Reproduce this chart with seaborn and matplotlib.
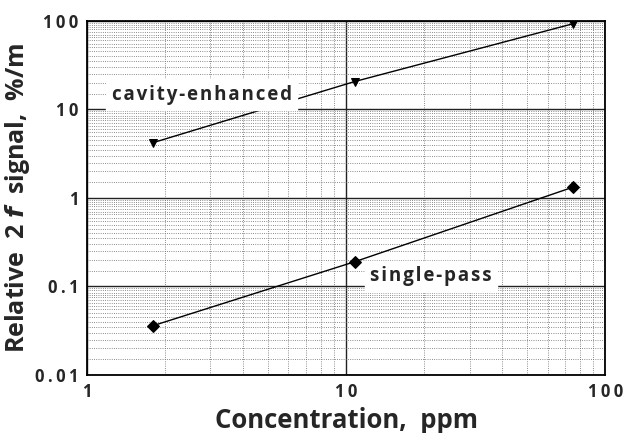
import numpy as np
import pandas as pd
import seaborn as sns
import matplotlib.pyplot as plt
from matplotlib.ticker import LogLocator, FixedLocator, FixedFormatter, NullFormatter

# Data
concentration = [1.8, 10.8, 75]
cavity_enhanced = [4.2, 20.6, 92.5]
single_pass = [0.036, 0.19, 1.32]

x_ticks = [1, 10, 100]
x_tick_labels = ["1", "10", "100"]
y_ticks = [0.01, 0.1, 1, 10, 100]
y_tick_labels = ["0.01", "0.1", "1", "10", "100"]


def spaced(s, sep="\u2009"):
    # old typewriter-like letter spacing
    return sep.join(s)


df = pd.DataFrame({
    "Concentration": concentration * 2,
    "Signal": cavity_enhanced + single_pass,
    "Series": ["cavity-enhanced"] * 3 + ["single-pass"] * 3,
})

sns.set_style("white")
plt.rcParams["font.family"] = ["Open Sans", "DejaVu Sans"]

fig = plt.figure(figsize=(6.24, 4.33), dpi=100)
ax = fig.add_axes([0.139, 0.134, 0.831, 0.818])

sns.lineplot(data=df, x="Concentration", y="Signal", style="Series",
             markers={"cavity-enhanced": "v", "single-pass": "D"},
             dashes=False, color="black", linewidth=1.0, markersize=6,
             markeredgecolor="black", legend=False, ax=ax)

ax.set_xscale("log")
ax.set_yscale("log")
ax.set_xlim(1, 100)
ax.set_ylim(0.01, 100)

ax.xaxis.set_major_locator(FixedLocator(x_ticks))
ax.xaxis.set_major_formatter(FixedFormatter([spaced(t) for t in x_tick_labels]))
ax.yaxis.set_major_locator(FixedLocator(y_ticks))
ax.yaxis.set_major_formatter(FixedFormatter([spaced(t) for t in y_tick_labels]))
ax.xaxis.set_minor_locator(LogLocator(base=10, subs=np.arange(2, 10)))
ax.yaxis.set_minor_locator(LogLocator(base=10, subs=np.arange(1.5, 10, 0.5)))
ax.xaxis.set_minor_formatter(NullFormatter())
ax.yaxis.set_minor_formatter(NullFormatter())

ax.grid(which="major", color="#222222", linewidth=1.0, linestyle="-")
ax.grid(which="minor", color="#666666", linewidth=0.6, linestyle=":")
ax.tick_params(which="both", length=0, labelsize=12, pad=6)
for lab in ax.get_xticklabels() + ax.get_yticklabels():
    lab.set_fontweight("bold")

for sp in ax.spines.values():
    sp.set_color("black")
    sp.set_linewidth(1.3)

ax.text(1.25, 14.6, spaced("cavity-enhanced", "\u200a"), fontsize=13.5, fontweight="bold",
        va="center", ha="left", backgroundcolor="white")
ax.text(12.4, 0.13, spaced("single-pass", "\u200a"), fontsize=13.5, fontweight="bold",
        va="center", ha="left", backgroundcolor="white")

ax.set_xlabel("Concentration,  ppm", fontsize=18.5, fontweight="bold", labelpad=4)
ax.set_ylabel(r"Relative  2 $\mathbfit{f}$  signal,  %/m", fontsize=18, fontweight="bold", labelpad=2)

fig.savefig("out.png", dpi=100)
